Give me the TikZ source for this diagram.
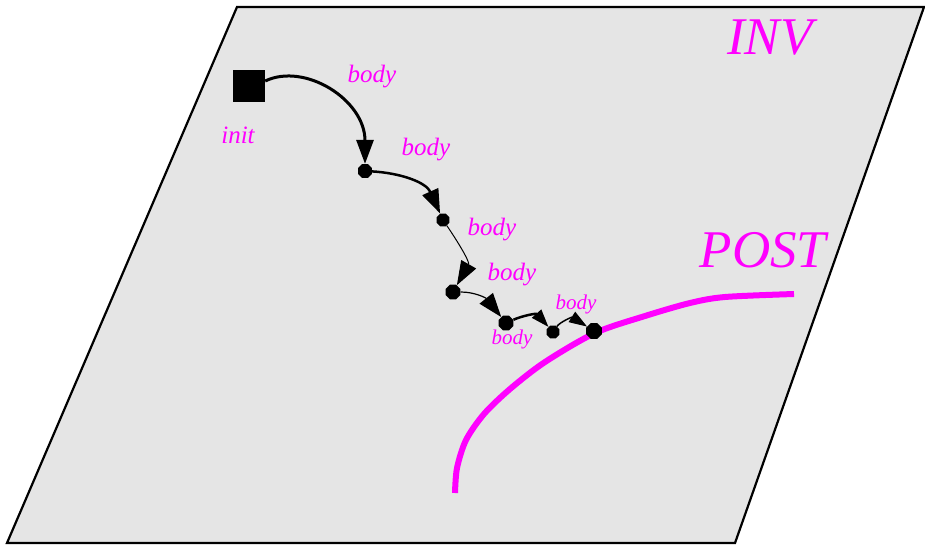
\documentclass[tikz,border=0pt]{standalone}
\usepackage{fontspec}
\setmainfont{Liberation Serif}
\usepackage{tikz}
\usepackage{xcolor}
\usetikzlibrary{arrows.meta,shapes.geometric}
\definecolor{invmag}{HTML}{FF00FF}
\definecolor{invgray}{HTML}{E5E5E5}
\tikzset{
  invPlane/.style={draw=black, fill=invgray, line width=2.2pt, line join=miter},
  initBox/.style={fill=black, minimum size=32pt, inner sep=0pt},
  stateDot/.style={regular polygon, regular polygon sides=8, fill=black, minimum size=15pt, inner sep=0pt},
  bodyArrow/.style={-{Triangle[length=24pt, width=17pt]}, draw=black},
  smallArrow/.style={-{Triangle[length=18pt, width=12pt]}, draw=black},
  postCurve/.style={draw=invmag, line width=6pt},
  bigLabel/.style={text=invmag, font=\fontsize{53}{56}\selectfont\itshape, inner sep=0pt},
  bodyLabel/.style={text=invmag, font=\fontsize{25}{27}\selectfont\itshape, inner sep=0pt},
  tinyLabel/.style={text=invmag, font=\fontsize{21}{23}\selectfont\itshape, inner sep=0pt}
}

\begin{document}
\begin{tikzpicture}[x=1pt, y=-1pt]
  \useasboundingbox (0,0) rectangle (925,545);
  % plane of the invariant
  \draw[invPlane] (237,7) -- (924,7) -- (735,543) -- (7,543) -- cycle;

  % postcondition curve
  \draw[postCurve] plot[smooth, tension=0.5] coordinates {(455,493) (457,468) (466,440) (484,414) (510,389) (545,362) (595,333) (645,316) (690,303) (725,297) (794,294)};

  % states of the loop
  \node[initBox] (init) at (249,86) {};
  \node[stateDot] (s1) at (365,171) {};
  \node[stateDot, minimum size=14pt] (s2) at (443,220) {};
  \node[stateDot, minimum size=16pt] (s3) at (453,292) {};
  \node[stateDot, minimum size=16pt] (s4) at (506,323) {};
  \node[stateDot, minimum size=14pt] (s5) at (553,332) {};
  \node[stateDot, minimum size=17pt] (s6) at (594,331) {};

  % iterations of the body
  \draw[bodyArrow, line width=3pt] ([yshift=5pt]init.east) .. controls (305,62) and (365,100) .. (s1);
  \draw[bodyArrow, line width=2.5pt] (s1) .. controls (400,173) and (426,182) .. (s2);
  \draw[bodyArrow, line width=1pt] (s2) .. controls (458,242) and (470,262) .. (s3);
  \draw[bodyArrow, line width=1.2pt] (s3) .. controls (475,292) and (486,298) .. (s4);
  \draw[smallArrow, line width=2.5pt] (s4) .. controls (522,316) and (536,313) .. (s5);
  \draw[smallArrow, line width=1.5pt] (s5) .. controls (560,322) and (572,317) .. (s6);

  % labels
  \node[bigLabel] (inv) at (770,38) {INV};
  \node[bigLabel] (post) at (763,250) {POST};
  \node[bodyLabel] (initlab) at (238,135) {init};
  \node[bodyLabel] (b1) at (372,77) {body};
  \node[bodyLabel] (b2) at (426,150) {body};
  \node[bodyLabel] (b3) at (492,230) {body};
  \node[bodyLabel] (b4) at (512,275) {body};
  \node[tinyLabel] (b5) at (512,339) {body};
  \node[tinyLabel] (b6) at (576,304) {body};
\end{tikzpicture}
\end{document}
